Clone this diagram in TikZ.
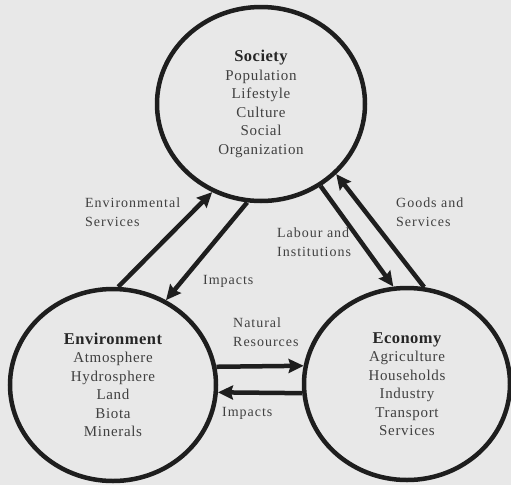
\documentclass[tikz,border=0pt]{standalone}
\usepackage{fontspec}
\setmainfont{Liberation Serif}
\usetikzlibrary{shapes.geometric,arrows.meta}
\definecolor{bg}{HTML}{E8E8E8}
\definecolor{ink}{HTML}{1E1E1E}
\definecolor{txt}{HTML}{404040}
\definecolor{ttl}{HTML}{262626}
\newcommand{\ttlfont}{\fontsize{16.5}{18.5}\selectfont\bfseries\addfontfeature{LetterSpace=3}\color{ttl}}
\newcommand{\bodyfont}{\fontsize{15}{18.5}\selectfont\addfontfeature{LetterSpace=4.5}}
\newcommand{\lblfont}{\fontsize{14}{19}\selectfont\addfontfeature{LetterSpace=7}}
\begin{document}
\begin{tikzpicture}[x=1pt,y=-1pt,
  sector/.style={ellipse, draw=ink, line width=4.5pt, inner sep=0pt,
    minimum width=206pt, minimum height=192pt, align=center, text=txt, font=\bodyfont},
  flow/.style={draw=ink, line width=4.5pt, -{Stealth[length=15pt,width=14pt,inset=2pt]}},
  lbl/.style={anchor=north west, inner sep=0pt, align=left, text=txt, font=\lblfont}]
\fill[bg] (0,0) rectangle (511,485);
\useasboundingbox (0,0) rectangle (511,485);

\node[sector, minimum width=208pt, minimum height=194pt] (soc) at (261,104)
  {{\ttlfont Society}\\Population\\Lifestyle\\Culture\\Social\\Organization};
\node[sector] (env) at (113,385)
  {{\ttlfont Environment}\\Atmosphere\\Hydrosphere\\Land\\Biota\\Minerals};
\node[sector] (eco) at (407,384)
  {{\ttlfont Economy}\\Agriculture\\Households\\Industry\\Transport\\Services};

\draw[flow] (env.87.6) -- (soc.241.4);
\draw[flow] (soc.262.5) -- (env.58.6);
\draw[flow] (soc.306.6) -- (eco.98.2);
\draw[flow] (eco.80.6) -- (soc.317.3);
\draw[flow] (env.10.1) -- (eco.170.5);
\draw[flow] (eco.185.7) -- (env.356);

\node[lbl] (les) at (85,198) {Environmental\\Services};
\node[lbl] (limp1) at (203,275) {Impacts};
\node[lbl] (llab) at (277,228) {Labour and\\Institutions};
\node[lbl] (lgds) at (396,198) {Goods and\\Services};
\node[lbl] (lnat) at (233,318) {Natural\\Resources};
\node[lbl] (limp2) at (222,407) {Impacts};
\end{tikzpicture}
\end{document}
